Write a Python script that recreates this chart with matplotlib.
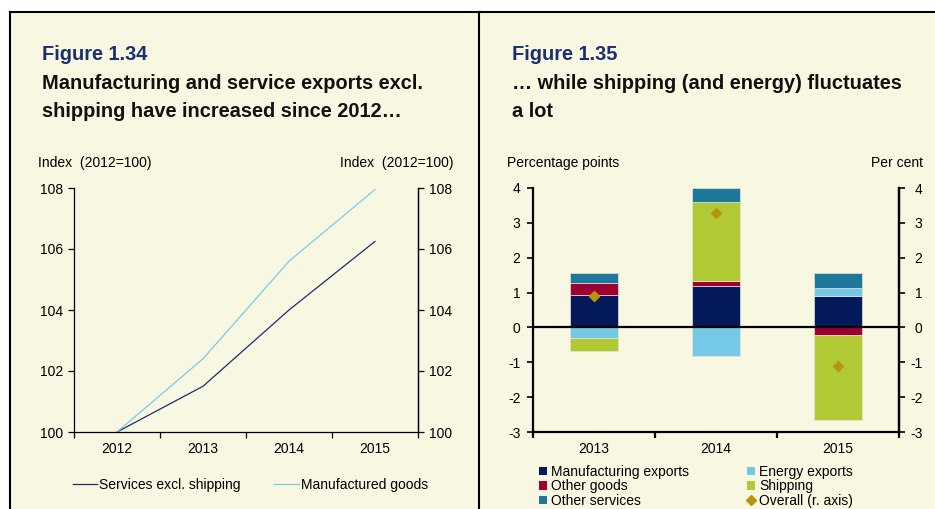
import matplotlib
matplotlib.use("Agg")
import matplotlib.pyplot as plt
import numpy as np
from matplotlib.lines import Line2D
from matplotlib.patches import Rectangle, Patch

plt.rcParams['font.family'] = ['Liberation Sans', 'DejaVu Sans']
plt.rcParams['axes.unicode_minus'] = False

# ---- Figure 1.34 data: export indices (2012 = 100)
idx_years = ['2012', '2013', '2014', '2015']
services_excl_shipping = [100.0, 101.5, 104.0, 106.25]
manufactured_goods = [100.0, 102.4, 105.6, 107.95]

# ---- Figure 1.35 data: contributions to export growth (percentage points)
contrib_years = ['2013', '2014', '2015']
manufacturing_exports = [0.93, 1.19, 0.89]
energy_exports = [-0.30, -0.82, 0.23]
other_goods = [0.34, 0.14, -0.21]
shipping = [-0.39, 2.26, -2.45]
other_services = [0.30, 0.42, 0.43]
overall = [0.91, 3.27, -1.12]

W, H = 935, 509
BG = '#f8f7e1'
NAVY_TITLE = '#1b2f6e'


def fx(px):
    return px / W


def fy(py):
    return 1 - py / H


fig = plt.figure(figsize=(W / 100, H / 100), dpi=100, facecolor='white')

# cream panel with border lines
fig.patches.append(Rectangle((fx(10), 0), 1 - fx(10), fy(12), transform=fig.transFigure,
                             facecolor=BG, edgecolor='none', zorder=-10))
for xs, ys in [((fx(10), 1), (fy(12), fy(12))),
               ((fx(10), fx(10)), (fy(12), 0)),
               ((fx(479), fx(479)), (fy(12), 0))]:
    fig.add_artist(Line2D(xs, ys, transform=fig.transFigure, color='black', lw=1.5))

TICK_FS = 10
TITLE_FS = 14.4

# ---------- titles
for x0, fig_no, lines in [(42, 'Figure 1.34', ['Manufacturing and service exports excl.',
                                               'shipping have increased since 2012\u2026']),
                          (512, 'Figure 1.35', ['\u2026 while shipping (and energy) fluctuates',
                                                'a lot'])]:
    fig.text(fx(x0), fy(60), fig_no, color=NAVY_TITLE, fontsize=TITLE_FS,
             fontweight='bold', va='baseline', ha='left')
    for i, ln in enumerate(lines):
        fig.text(fx(x0), fy(89 + 28 * i), ln, color='#111111', fontsize=TITLE_FS,
                 fontweight='bold', va='baseline', ha='left')


def style_cat_axis(ax, n, lw):
    ax.set_facecolor('none')
    ax.set_xlim(-0.5, n - 0.5)
    ax.set_xticks(np.arange(n))
    ax.set_xticks(np.arange(n + 1) - 0.5, minor=True)
    ax.tick_params(axis='x', which='major', length=0, pad=7.5, labelsize=TICK_FS)
    ax.tick_params(axis='x', which='minor', length=4, width=lw, direction='out')
    ax.spines['top'].set_visible(False)
    for s in ('left', 'right', 'bottom'):
        ax.spines[s].set_linewidth(lw)


# ---------- Figure 1.34: line chart
ax1 = fig.add_axes([fx(74), fy(432), fx(418) - fx(74), fy(188) - fy(432)])
xi = np.arange(len(idx_years))
l_serv, = ax1.plot(xi, services_excl_shipping, color='#1d2b6f', lw=0.9,
                   label='Services excl. shipping')
l_manu, = ax1.plot(xi, manufactured_goods, color='#7ccbe6', lw=0.9,
                   label='Manufactured goods')
style_cat_axis(ax1, len(idx_years), 0.9)
ax1.set_xticklabels(idx_years)
ax1.set_ylim(100, 108)
ax1.set_yticks(np.arange(100, 109, 2))
ax1.tick_params(axis='y', length=4, width=0.9, pad=4, labelsize=TICK_FS)
ax1r = ax1.twinx()
ax1r.set_ylim(100, 108)
ax1r.set_yticks(np.arange(100, 109, 2))
ax1r.tick_params(axis='y', length=4, width=0.9, pad=4, labelsize=TICK_FS)
ax1r.spines['top'].set_visible(False)
ax1r.spines['right'].set_linewidth(0.9)
ax1r.spines['left'].set_visible(False)
ax1r.spines['bottom'].set_visible(False)

fig.text(fx(38), fy(167), 'Index  (2012=100)', fontsize=TICK_FS, ha='left', va='baseline')
fig.text(fx(454), fy(167), 'Index  (2012=100)', fontsize=TICK_FS, ha='right', va='baseline')

fig.legend(handles=[l_serv, l_manu], loc='center left',
           bbox_to_anchor=(fx(73), fy(485)), ncol=2, frameon=False,
           fontsize=TICK_FS, handlelength=1.75, handletextpad=0.15,
           columnspacing=2.4, borderpad=0, borderaxespad=0)

# ---------- Figure 1.35: stacked contributions
ax2 = fig.add_axes([fx(533), fy(432), fx(899) - fx(533), fy(188) - fy(432)])
xc = np.arange(len(contrib_years))
series = [
    ('Manufacturing exports', manufacturing_exports, '#03195a'),
    ('Energy exports', energy_exports, '#76c9e6'),
    ('Other goods', other_goods, '#9e0030'),
    ('Shipping', shipping, '#b1c934'),
    ('Other services', other_services, '#1f7799'),
]
pos_base = np.zeros(len(xc))
neg_base = np.zeros(len(xc))
handles = {}
for name, vals, col in series:
    v = np.asarray(vals, dtype=float)
    base = np.where(v >= 0, pos_base, neg_base)
    ax2.bar(xc, v, bottom=base, width=0.4, color=col,
            edgecolor='#e4e6d8', linewidth=0.5, label=name, zorder=2)
    handles[name] = Patch(facecolor=col, edgecolor='none', label=name)
    pos_base = pos_base + np.where(v >= 0, v, 0)
    neg_base = neg_base + np.where(v < 0, v, 0)

ax2.axhline(0, color='black', lw=1.6, zorder=3)
style_cat_axis(ax2, len(contrib_years), 1.6)
ax2.set_xticklabels(contrib_years)
ax2.set_ylim(-3, 4)
ax2.set_yticks(np.arange(-3, 5))
ax2.tick_params(axis='y', length=4, width=1.2, pad=5, labelsize=TICK_FS)

ax2r = ax2.twinx()
ax2r.set_ylim(-3, 4)
ax2r.set_yticks(np.arange(-3, 5))
ax2r.tick_params(axis='y', length=4, width=1.2, pad=13, labelsize=TICK_FS)
for lab in ax2r.get_yticklabels():
    lab.set_horizontalalignment('right')
ax2r.spines['top'].set_visible(False)
ax2r.spines['left'].set_visible(False)
ax2r.spines['bottom'].set_visible(False)
ax2r.spines['right'].set_linewidth(1.6)
d_overall, = ax2r.plot(xc, overall, linestyle='none', marker='D', markersize=5.5,
                       color='#b8950c', label='Overall (r. axis)', zorder=5)

fig.text(fx(507), fy(167), 'Percentage points', fontsize=TICK_FS, ha='left', va='baseline')
fig.text(fx(923), fy(167), 'Per cent', fontsize=TICK_FS, ha='right', va='baseline')

leg_handles = [handles['Manufacturing exports'], handles['Other goods'],
               handles['Other services'], handles['Energy exports'],
               handles['Shipping'], d_overall]
fig.legend(handles=leg_handles, loc='upper left', bbox_to_anchor=(fx(539), fy(465)),
           ncol=2, frameon=False, fontsize=TICK_FS, handlelength=0.55,
           handleheight=0.55, handletextpad=0.3, labelspacing=0.03,
           columnspacing=4.2, borderpad=0, borderaxespad=0)

fig.savefig('out.png', dpi=100, facecolor='white')
